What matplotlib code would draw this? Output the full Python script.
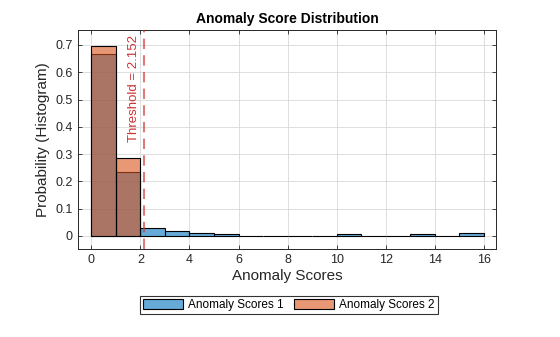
import numpy as np
import matplotlib
matplotlib.use("Agg")
import matplotlib.pyplot as plt
import matplotlib.patches as mpatches

plt.rcParams["font.family"] = ["Liberation Sans", "DejaVu Sans"]

# histogram bins (width 1, 0..16) and probabilities
bin_edges = np.arange(0, 17)
scores1_prob = [0.667, 0.234, 0.029, 0.018, 0.012, 0.007, 0, 0, 0, 0,
                0.006, 0, 0, 0.006, 0, 0.010]
scores2_prob = [0.698, 0.286, 0, 0, 0, 0, 0, 0, 0, 0,
                0, 0, 0, 0, 0, 0]
series_names = ["Anomaly Scores 1", "Anomaly Scores 2"]
threshold = 2.152

blue = (0.0, 0.447, 0.741)
orange = (0.85, 0.325, 0.098)
txt = (0.15, 0.15, 0.15)

fig = plt.figure(figsize=(5.6, 3.37), dpi=100)
ax = fig.add_axes([0.139, 0.261, 0.747, 0.650])

left = bin_edges[:-1]
ax.bar(left, scores1_prob, width=1, align="edge", color=blue, alpha=0.6,
       edgecolor="none", zorder=2)
ax.bar(left, scores1_prob, width=1, align="edge", fill=False,
       edgecolor="black", linewidth=0.8, zorder=2)
ax.bar(left, scores2_prob, width=1, align="edge", color=orange, alpha=0.6,
       edgecolor="none", zorder=3)
nz = np.array(scores2_prob) > 0
ax.bar(left[nz], np.array(scores2_prob)[nz], width=1, align="edge", fill=False,
       edgecolor="black", linewidth=0.8, zorder=3)

# threshold marker
ax.axvline(threshold, color=(0.8, 0.2, 0.2), linestyle=(0, (5, 3)),
           linewidth=1.5, alpha=0.65, zorder=4)
ax.text(threshold - 0.17, 0.735, f"Threshold = {threshold}", rotation=90,
        ha="right", va="top", color=(0.8, 0.2, 0.2), fontsize=9.5)

ax.set_xlim(-0.55, 16.5)
ax.set_ylim(-0.048, 0.755)
ax.set_xticks(np.arange(0, 17, 2))
ax.set_yticks(np.arange(0, 0.71, 0.1))
ax.set_yticklabels(["0"] + [f"{v:.1f}" for v in np.arange(0.1, 0.71, 0.1)])
ax.grid(True, color=(0.85, 0.85, 0.85), linewidth=0.6, zorder=0)
ax.set_axisbelow(True)
ax.tick_params(direction="in", top=True, right=True, length=3,
               labelsize=9, colors=txt, labelcolor=txt, width=0.6)
for s in ax.spines.values():
    s.set_color(txt)
    s.set_linewidth(0.7)

ax.set_xlabel("Anomaly Scores", fontsize=11, color=txt, labelpad=2)
ax.set_ylabel("Probability (Histogram)", fontsize=11, color=txt, labelpad=4)
ax.set_title("Anomaly Score Distribution", fontsize=10, fontweight="bold",
             color="black", pad=5)

handles = [mpatches.Patch(facecolor=(0.4, 0.668, 0.845), edgecolor="black", linewidth=0.8),
           mpatches.Patch(facecolor=(0.91, 0.595, 0.459), edgecolor="black", linewidth=0.8)]
leg = fig.legend(handles, series_names, loc="center", ncol=2,
                 bbox_to_anchor=(0.516, 0.094), fontsize=8.5, frameon=True,
                 fancybox=False, edgecolor="black", handlelength=3.4,
                 handleheight=0.9, columnspacing=0.9, handletextpad=0.4,
                 borderpad=0.25)
leg.get_frame().set_linewidth(0.8)

fig.savefig("out.png", dpi=100)
